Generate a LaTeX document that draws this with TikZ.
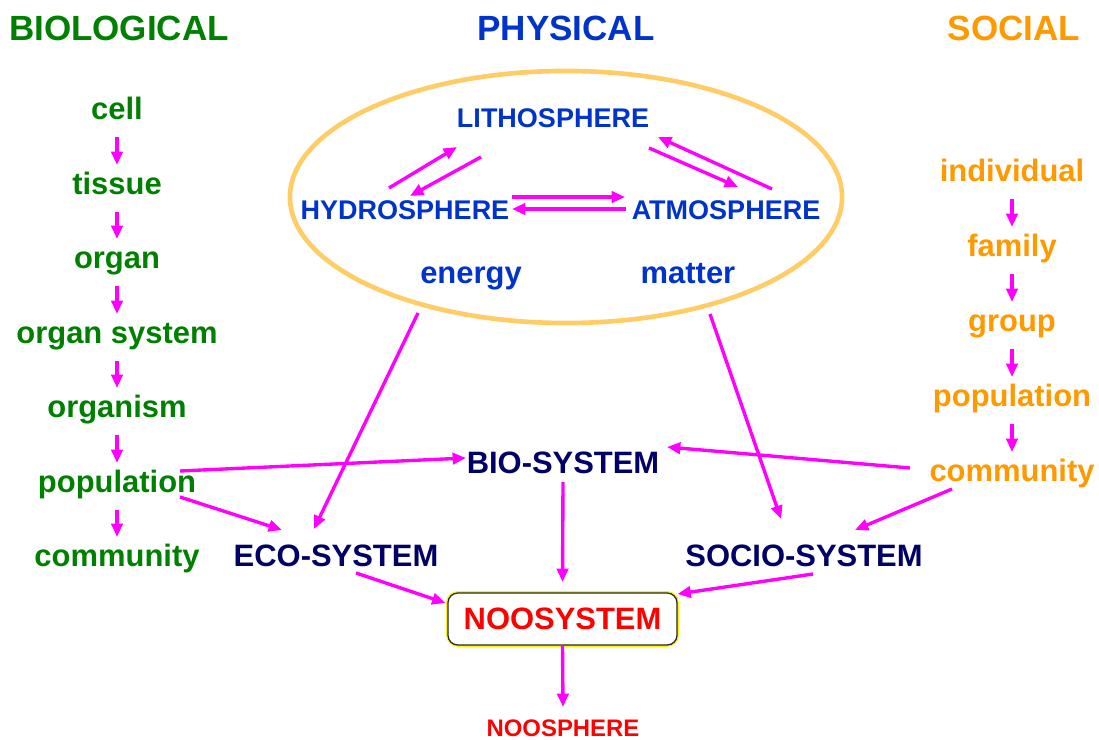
\documentclass[tikz,border=0pt]{standalone}
\usepackage{fontspec}
\setmainfont{Liberation Sans}
\usepackage{tikz}
\usetikzlibrary{arrows.meta}
\definecolor{biogreen}{HTML}{008000}
\definecolor{physblue}{HTML}{0033CC}
\definecolor{socorange}{HTML}{FF9900}
\definecolor{sysnavy}{HTML}{000066}
\definecolor{linkpink}{HTML}{FF00FF}
\definecolor{ringorange}{HTML}{FFCC66}

\begin{document}
\begin{tikzpicture}[x=0.025cm, y=-0.025cm,
    every node/.style={inner sep=0pt},
    head/.style={anchor=base, font=\fontsize{24.9}{28}\selectfont\bfseries},
    level/.style={anchor=base, font=\fontsize{22}{26}\selectfont\bfseries},
    sphere/.style={text=physblue, font=\fontsize{19.2}{22}\selectfont\bfseries},
    sys/.style={text=sysnavy, font=\fontsize{22}{26}\selectfont\bfseries},
    link/.style={draw=linkpink, line width=2.4pt, -{Triangle[length=9.5pt, width=8pt]}}]
  \useasboundingbox (0,0) rectangle (1099,740);

  % column heads
  \node[head, text=biogreen] (hbio) at (119,41) {BIOLOGICAL};
  \node[head, text=physblue] (hphys) at (566,41) {PHYSICAL};
  \node[head, text=socorange] (hsoc) at (1014,41) {SOCIAL};

  % biological levels
  \node[level, text=biogreen] (bcell) at (117,120) {cell};
  \node[level, text=biogreen] (btissue) at (117,195) {tissue};
  \node[level, text=biogreen] (borgan) at (117,269) {organ};
  \node[level, text=biogreen] (bsystem) at (117,344) {organ system};
  \node[level, text=biogreen] (borganism) at (117,418) {organism};
  \node[level, text=biogreen] (bpop) at (117,493) {population};
  \node[level, text=biogreen] (bcomm) at (117,567) {community};

  % social levels
  \node[level, text=socorange] (sind) at (1012,182) {individual};
  \node[level, text=socorange] (sfam) at (1012,257) {family};
  \node[level, text=socorange] (sgroup) at (1012,332) {group};
  \node[level, text=socorange] (spop) at (1012,407) {population};
  \node[level, text=socorange] (scomm) at (1012,482) {community};

  \foreach \a/\b in {bcell/btissue, btissue/borgan, borgan/bsystem, bsystem/borganism,
      borganism/bpop, bpop/bcomm, sind/sfam, sfam/sgroup, sgroup/spop, spop/scomm}
    \draw[link] ([shift={(0,17)}]\a.base) -- ([shift={(0,-30)}]\b.base);

  % physical spheres
  \draw[ringorange, line width=3.3pt] (566,197) ellipse [x radius=6.9cm, y radius=3.15cm];
  \node[sphere] (litho) at (553,118) {LITHOSPHERE};
  \node[sphere] (hydro) at (405,210) {HYDROSPHERE};
  \node[sphere] (atmo) at (726,210) {ATMOSPHERE};
  \node[level, text=physblue] (energy) at (471,284) {energy};
  \node[level, text=physblue] (matter) at (688,284) {matter};

  \draw[link] ([shift={(-16,-22)}]hydro.center) -- ([shift={(-96,29)}]litho.center);
  \draw[link] ([shift={(-72,39)}]litho.center) -- ([shift={(5,-14)}]hydro.center);
  \draw[link] ([shift={(96,30)}]litho.center) -- ([shift={(12,-23)}]atmo.center);
  \draw[link] ([shift={(46,-21)}]atmo.center) -- ([shift={(105,19)}]litho.center);
  \draw[link] ([shift={(107,-13)}]hydro.center) -- ([shift={(-101,-13)}]atmo.center);
  \draw[link] ([shift={(-100,-1)}]atmo.center) -- ([shift={(107,-1)}]hydro.center);

  % systems
  \node[sys] (bio) at (563,463) {BIO-SYSTEM};
  \node[sys] (eco) at (336,556) {ECO-SYSTEM};
  \node[sys] (socio) at (804,556) {SOCIO-SYSTEM};
  \node[draw=black!85, line width=0.9pt, fill=white, rounded corners=7pt,
        preaction={draw=yellow, line width=2.6pt},
        minimum width=5.725cm, minimum height=1.3cm,
        text=red, font=\fontsize{22}{26}\selectfont\bfseries] (noo) at (562.5,619) {NOOSYSTEM};
  \node[text=red, font=\fontsize{17}{20}\selectfont\bfseries] (noosphere) at (563,728) {NOOSPHERE};

  \draw[link] ([shift={(63,-22)}]bpop.base) -- ([shift={(-97,-5)}]bio.center);
  \draw[link] ([shift={(63,4)}]bpop.base) -- ([shift={(-54,-26)}]eco.center);
  \draw[link] ([shift={(-53,29)}]energy.base) -- ([shift={(-22,-27)}]eco.center);
  \draw[link] ([shift={(22,30)}]matter.base) -- ([shift={(-23,-37)}]socio.center);
  \draw[link] ([shift={(-102,-14)}]scomm.base) -- ([shift={(104,-16)}]bio.center);
  \draw[link] ([shift={(-60,7)}]scomm.base) -- ([shift={(51,-26)}]socio.center);
  \draw[link] ([shift={(0,19)}]bio.center) -- ([shift={(0,-37)}]noo.center);
  \draw[link] ([shift={(20,17)}]eco.center) -- ([shift={(-117,-16)}]noo.center);
  \draw[link] ([shift={(9,18)}]socio.center) -- ([shift={(115,-25)}]noo.center);
  \draw[link] ([shift={(0,26)}]noo.center) -- ([shift={(0,-21)}]noosphere.center);
\end{tikzpicture}
\end{document}
